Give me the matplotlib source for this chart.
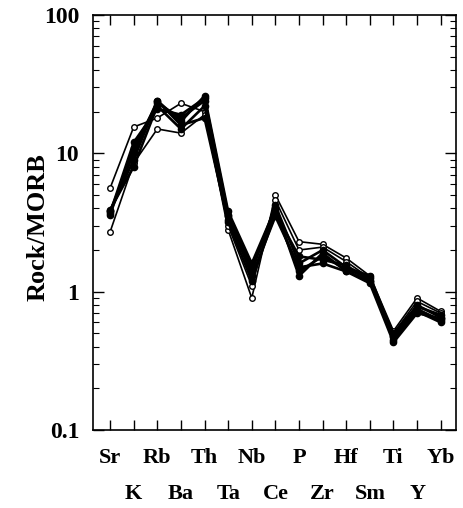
import matplotlib.pyplot as plt
import numpy as np

elements = ['Sr', 'K', 'Rb', 'Ba', 'Th', 'Ta', 'Nb', 'Ce', 'P', 'Zr', 'Hf', 'Sm', 'Ti', 'Y', 'Yb']

s1 = [5.6, 15.5, 18, 23, 20, 2.8, 0.9, 5.0, 2.3, 2.2, 1.75, 1.3, 0.52, 0.9, 0.72]
s2 = [2.7, 8.5, 15, 14, 19, 3.0, 1.1, 4.6, 2.0, 2.1, 1.65, 1.25, 0.5, 0.85, 0.7]
s3 = [3.8, 10, 24, 17, 26, 3.8, 1.6, 4.0, 1.3, 1.9, 1.4, 1.2, 0.45, 0.72, 0.6]
s4 = [3.6, 11, 23, 18, 24, 3.5, 1.5, 3.8, 1.4, 1.8, 1.45, 1.25, 0.47, 0.75, 0.62]
s5 = [3.9, 8, 22, 15, 22, 3.3, 1.4, 4.2, 1.6, 2.0, 1.5, 1.3, 0.48, 0.8, 0.65]
s6 = [3.7, 12, 21, 19, 25, 3.6, 1.3, 3.5, 1.5, 1.6, 1.4, 1.15, 0.43, 0.7, 0.64]
s7 = [3.8, 9, 24, 16, 18, 3.2, 1.2, 3.7, 1.8, 1.7, 1.55, 1.2, 0.5, 0.78, 0.68]

font = 'Liberation Serif'

fig = plt.figure(figsize=(4.63, 5.08), dpi=100)
ax = fig.add_axes([0.201, 0.1535, 0.784, 0.817])

x = np.arange(len(elements))
for s in [s1, s2]:
    ax.plot(x, s, color='k', lw=1.2, marker='o', ms=4, mfc='white', mec='k', mew=1)
for s in [s3, s4, s5, s6, s7]:
    ax.plot(x, s, color='k', lw=1.9, marker='o', ms=4.5, mfc='k', mec='k')

ax.set_yscale('log')
ax.set_ylim(0.1, 100)
ax.set_xlim(-0.72, 14.65)

ax.set_yticks([0.1, 1, 10, 100])
ax.set_yticklabels(['0.1', '1', '10', '100'], fontfamily=font, fontweight='bold', fontsize=17)

ax.set_xticks(x[::2])
ax.set_xticklabels(elements[::2], fontfamily=font, fontweight='bold', fontsize=16)
ax.set_xticks(x[1::2], minor=True)
ax.set_xticklabels(elements[1::2], minor=True, fontfamily=font, fontweight='bold', fontsize=16)

ax.tick_params(axis='x', which='major', direction='in', top=True, length=7, width=1, pad=13)
ax.tick_params(axis='x', which='minor', direction='in', top=True, length=7, width=1, pad=39)
ax.tick_params(axis='y', which='major', direction='in', right=True, length=8, width=1, pad=10)
ax.tick_params(axis='y', which='minor', direction='in', right=True, length=4, width=0.8)

for sp in ax.spines.values():
    sp.set_linewidth(1.2)

ax.set_ylabel('Rock/MORB', fontfamily=font, fontweight='bold', fontsize=19)
ax.yaxis.set_label_coords(-0.12, 0.49)

fig.savefig('out.png', dpi=100)
